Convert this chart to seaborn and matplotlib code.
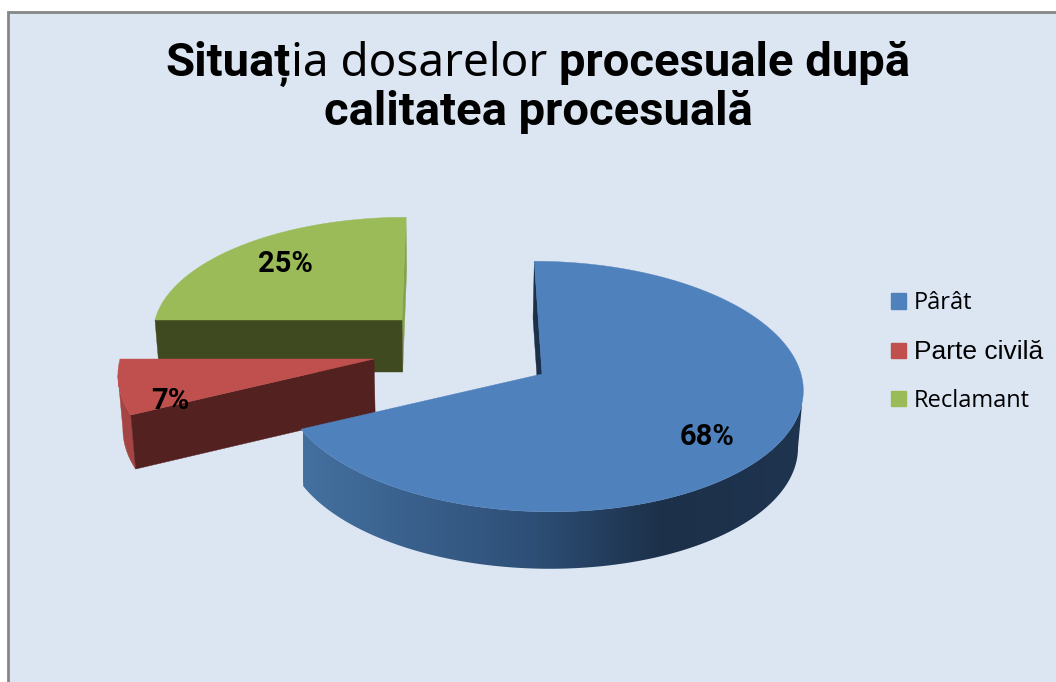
import numpy as np
import seaborn as sns
from matplotlib import pyplot as plt
from matplotlib.colors import LinearSegmentedColormap
from matplotlib.patches import Patch, Polygon, Rectangle

sns.set_theme(style='white')

# data
categories = ['Pârât', 'Parte civilă', 'Reclamant']
values = [68, 7, 25]
pct_labels = ['68%', '7%', '25%']
colors = sns.color_palette(['#4f81bd', '#c0504d', '#9bbb59'])

# layout of the exploded 3d pie, in pixels
apex_x = [542, 374, 402]
apex_y = [374, 359, 320]
radius_x = [259, 254, 247]
radius_y = [124, 126, 113]
depth = [57, 54, 52]
label_x = [707, 170, 285]
label_y = [437, 401, 264]
vanish_x = 450
persp = 0.10
shear = 0.092
shrink = 0.985

fig = plt.figure(figsize=(10.56, 6.82), dpi=100)
ax = fig.add_axes([0, 0, 1, 1])
ax.axis('off')
ax.add_patch(Rectangle((8, 12), 1200, 800, fc='#dce6f2', ec='#868686', lw=2))


def rim(i, theta):
    # theta is clockwise from the top, radians
    u, v = np.sin(theta), np.cos(theta)
    w = 1 + persp * v
    s = shear * (apex_x[i] - vanish_x)
    x = apex_x[i] + (radius_x[i] * u - s * v) / w
    y = apex_y[i] - radius_y[i] * v / w
    return x, y


def lower(i, x, y):
    return vanish_x + (np.asarray(x) - vanish_x) * shrink, np.asarray(y) + depth[i]


def radial_wall(i, theta, color, zorder):
    x0, y0 = rim(i, theta)
    xs = np.array([apex_x[i], x0])
    ys = np.array([apex_y[i], y0])
    xb, yb = lower(i, xs, ys)
    ax.fill([xs[0], xs[1], xb[1], xb[0]], [ys[0], ys[1], yb[1], yb[0]],
            color=color, lw=0.3, zorder=zorder)


def outer_outline(i, t):
    # t runs between the silhouette point and the wedge edge
    x, y = rim(i, t)
    xb, yb = lower(i, x, y)
    return np.c_[np.r_[x, xb[::-1]], np.r_[y, yb[::-1]]]


# wedge angles come from the values
edges = np.cumsum([0] + values) / sum(values) * 2 * np.pi
starts, ends = edges[:-1], edges[1:]

# green, behind everything
radial_wall(2, ends[2], '#84a14c', 2)
radial_wall(2, starts[2], '#3f4a20', 3)

# red
t_red = np.linspace(starts[1], ends[1], 200)
t_red = t_red[:np.argmin(rim(1, t_red)[0]) + 1]
ax.add_patch(Polygon(outer_outline(1, t_red), color='#a54543', lw=0.3, zorder=4))
radial_wall(1, starts[1], '#542121', 5)

# blue, the outer wall has a horizontal gradient
radial_wall(0, starts[0], '#1c3049', 6)
wall_cmap = LinearSegmentedColormap.from_list(
    'wall', [(0, '#44709f'), (0.45, '#2e5078'), (0.72, '#1c3049'), (1, '#1f344f')])
t_blue = np.linspace(starts[0], ends[0], 400)
t_blue = t_blue[np.argmax(rim(0, t_blue)[0]):]
wall = Polygon(outer_outline(0, t_blue), transform=ax.transData, fc='none', ec='none')
ax.add_patch(wall)
img = ax.imshow(np.linspace(0, 1, 256)[None, :], extent=(303, 802, 600, 380), aspect='auto',
                cmap=wall_cmap, zorder=6)
img.set_clip_path(wall)

# top faces
for i, color in enumerate(colors):
    t = np.linspace(starts[i], ends[i], 200)
    x, y = rim(i, t)
    ax.fill(np.r_[apex_x[i], x], np.r_[apex_y[i], y], color=color, lw=0.3, zorder=7)
    ax.text(label_x[i], label_y[i], pct_labels[i], ha='center', va='center',
            fontsize=21, fontweight='bold', color='black', zorder=9, family='Roboto')

ax.set_xlim(0, 1056)
ax.set_ylim(682, 0)

# title, mixed weights on first line
parts = [('Situaț', 'bold', 'Roboto', 34), ('ia dosarelor ', 'normal', 'Noto Sans', 33),
         ('procesuale după', 'bold', 'Roboto', 34)]
fig.canvas.draw()
rend = fig.canvas.get_renderer()
items = [ax.text(0, 76, s.replace(' ', '\u00a0'), fontsize=size, fontweight=wt,
                 color='black', family=fam, va='baseline', ha='left')
         for s, wt, fam, size in parts]
widths = [it.get_window_extent(rend).width for it in items]
xcur = 538 - sum(widths) / 2
for it, wd in zip(items, widths):
    it.set_x(xcur)
    xcur += wd
ax.text(538, 125, 'calitatea procesuală', fontsize=34, fontweight='bold',
        color='black', family='Roboto', va='baseline', ha='center')

# legend
handles = [Patch(color=c) for c in colors]
leg = ax.legend(handles, categories, loc='upper left', bbox_to_anchor=(884 / 1056, 1 - 284 / 682),
                frameon=False, fontsize=17, handlelength=0.64, handleheight=0.64,
                handletextpad=0.34, labelspacing=1.05, borderpad=0.3, borderaxespad=0)
for txt, fam, size in zip(leg.get_texts(), ['Open Sans', 'Liberation Sans', 'Open Sans'], [17, 19, 17]):
    txt.set_family(fam)
    txt.set_fontsize(size)
    txt.set_color('black')

fig.savefig('out.png', dpi=100)
